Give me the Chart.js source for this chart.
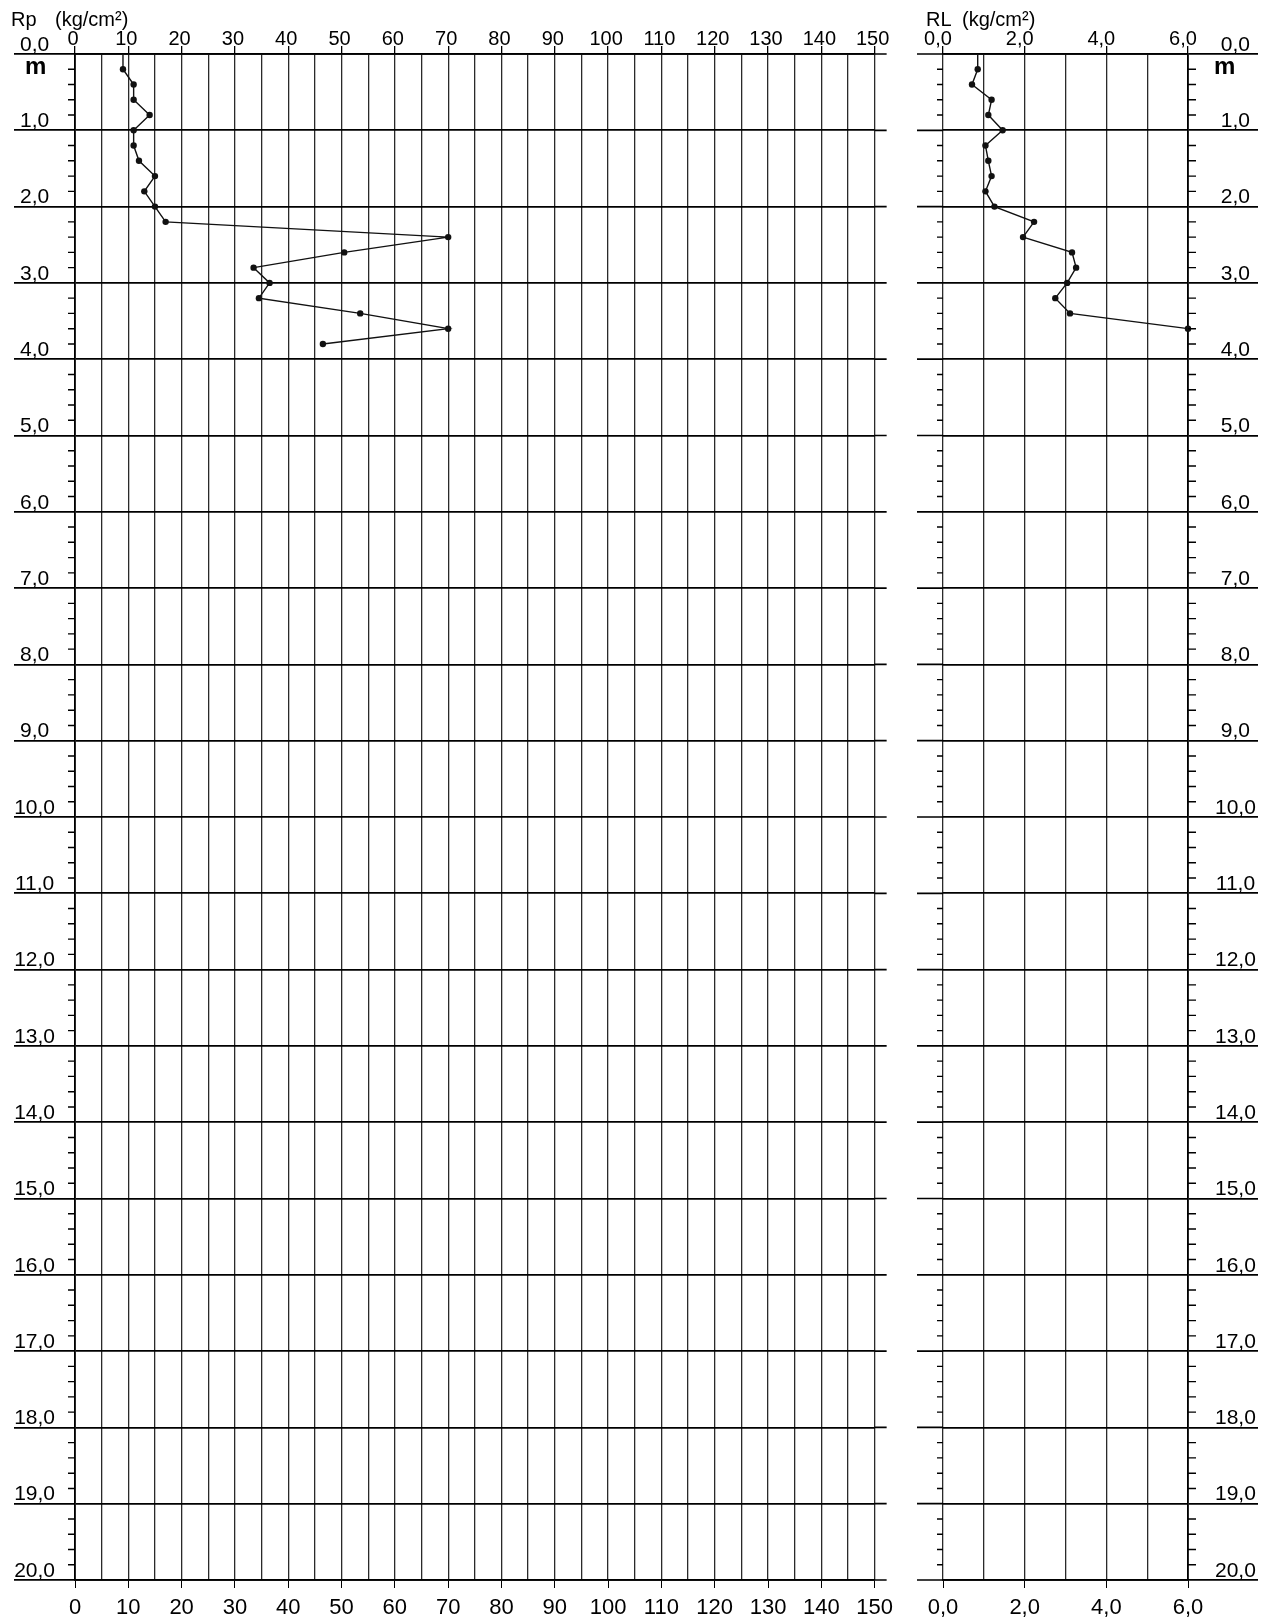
<!DOCTYPE html>
<html>
<head>
<meta charset="utf-8">
<script src="https://cdn.jsdelivr.net/npm/chart.js@4.4.1/dist/chart.umd.min.js"></script>
<style>
  body { margin: 0; background: #fff; width: 1266px; height: 1621px; position: relative; overflow: hidden;
         font-family: "Liberation Sans", Arial, sans-serif; }
  canvas { position: absolute; top: 0; }
  #cRp { left: 0; }
  #cRl { left: 900px; }
  .lbl { position: absolute; z-index: 2; font-size: 20px; line-height: 1; color: #000; white-space: pre; }
  .unit { position: absolute; z-index: 2; font-size: 24px; font-weight: bold; line-height: 1; color: #000; }
</style>
</head>
<body>
<canvas id="cRp" width="900" height="1621"></canvas>
<canvas id="cRl" width="366" height="1621"></canvas>
<div class="lbl" style="left:11px; top:9px;">Rp</div>
<div class="lbl" style="left:55px; top:9px;">(kg/cm²)</div>
<div class="lbl" style="left:926px; top:9px;">RL</div>
<div class="lbl" style="left:962px; top:9px;">(kg/cm²)</div>
<div class="unit" style="left:25px; top:54px;">m</div>
<div class="unit" style="left:1214px; top:54px;">m</div>
<script>
// profondeur (m) et lectures du pénétromètre
const rpDepth = [0.0, 0.2, 0.4, 0.6, 0.8, 1.0, 1.2, 1.4, 1.6, 1.8, 2.0, 2.2, 2.4, 2.6, 2.8, 3.0, 3.2, 3.4, 3.6, 3.8];
const rpValues = [9, 9, 11, 11, 14, 11, 11, 12, 15, 13, 15, 17, 70, 50.5, 33.5, 36.5, 34.5, 53.5, 70, 46.5];

const rlDepth = [0.0, 0.2, 0.4, 0.6, 0.8, 1.0, 1.2, 1.4, 1.6, 1.8, 2.0, 2.2, 2.4, 2.6, 2.8, 3.0, 3.2, 3.4, 3.6];
const rlValues = [0.85, 0.85, 0.71, 1.19, 1.11, 1.46, 1.04, 1.11, 1.19, 1.04, 1.26, 2.23, 1.96, 3.16, 3.26, 3.04, 2.75, 3.11, 6.0];

// libellés des axes
const rpTickLabels = ['0', '10', '20', '30', '40', '50', '60', '70', '80', '90', '100', '110', '120', '130', '140', '150'];
const rlTickLabels = ['0,0', '2,0', '4,0', '6,0'];
const depthLabels = ['0,0', '1,0', '2,0', '3,0', '4,0', '5,0', '6,0', '7,0', '8,0', '9,0', '10,0',
  '11,0', '12,0', '13,0', '14,0', '15,0', '16,0', '17,0', '18,0', '19,0', '20,0'];

Chart.defaults.font.family = '"Liberation Sans", Arial, sans-serif';
Chart.defaults.color = '#000';

// petites graduations tous les 0,2 m + prolongement des lignes des mètres
const depthMarks = {
  id: 'depthMarks',
  afterDraw(chart, args, opts) {
    const y = chart.scales.y;
    const a = chart.chartArea;
    const ctx = chart.ctx;
    ctx.save();
    ctx.strokeStyle = '#000';
    ctx.lineWidth = 1.4;
    ctx.beginPath();
    for (let i = 1; i < 100; i++) {
      if (i % 5 === 0) continue;
      const py = y.getPixelForValue(i / 5);
      if (opts.minorLeft) { ctx.moveTo(a.left - opts.minorLeft, py); ctx.lineTo(a.left, py); }
      if (opts.minorRight) { ctx.moveTo(a.right, py); ctx.lineTo(a.right + opts.minorRight, py); }
    }
    ctx.stroke();
    ctx.lineWidth = 1.7;
    ctx.beginPath();
    y.ticks.forEach(t => {
      const py = y.getPixelForValue(t.value);
      if (opts.extLeft) { ctx.moveTo(a.left - opts.extLeft, py); ctx.lineTo(a.left, py); }
      if (opts.extRight) { ctx.moveTo(a.right, py); ctx.lineTo(a.right + opts.extRight, py); }
    });
    ctx.stroke();
    ctx.restore();
  }
};

function lineDataset(depths, values) {
  return {
    data: depths.map((d, i) => ({ x: values[i], y: d })),
    showLine: true,
    borderColor: '#111',
    borderWidth: 1.4,
    pointRadius: c => c.dataIndex === 0 ? 0 : 3.2,
    pointBackgroundColor: '#111',
    pointBorderWidth: 0,
    clip: false
  };
}

function depthAxis(position, width, tickLength, padding) {
  return {
    type: 'linear', position: position, reverse: true, min: 0, max: 20,
    afterFit: s => { s.width = width; },
    ticks: { stepSize: 1, autoSkip: false, padding: padding, labelOffset: -9, crossAlign: 'center',
             font: { size: 21 }, callback: v => depthLabels[Math.round(v)] },
    grid: { color: '#000', lineWidth: 1.8, tickLength: tickLength, tickColor: '#000' },
    border: { color: '#000', width: 1.8 }
  };
}

// Rp
new Chart(document.getElementById('cRp'), {
  type: 'scatter',
  data: { datasets: [lineDataset(rpDepth, rpValues)] },
  options: {
    responsive: false,
    animation: false,
    layout: { padding: { right: 18 } },
    plugins: { legend: { display: false }, tooltip: { enabled: false },
               depthMarks: { minorLeft: 7, extRight: 12 } },
    scales: {
      x: {
        type: 'linear', position: 'top', min: 0, max: 150,
        afterFit: s => { s.height = 54; },
        ticks: { stepSize: 5, autoSkip: false, maxTicksLimit: 200, maxRotation: 0, padding: -5, labelOffset: -2,
                 font: { size: 20 }, callback: v => v % 10 === 0 ? rpTickLabels[v / 10] : '' },
        grid: { color: '#2a2a2a', lineWidth: 1.3, tickLength: 8,
                tickColor: c => c.tick && c.tick.value % 10 === 0 ? '#000' : 'rgba(0,0,0,0)' },
        border: { color: '#000', width: 1.8 }
      },
      x2: {
        type: 'linear', position: 'bottom', min: 0, max: 150,
        afterFit: s => { s.height = 41; },
        ticks: { stepSize: 5, autoSkip: false, maxTicksLimit: 200, maxRotation: 0, padding: 7,
                 font: { size: 22 }, callback: v => v % 10 === 0 ? rpTickLabels[v / 10] : '' },
        grid: { drawOnChartArea: false, tickLength: 8,
                tickColor: c => c.tick && c.tick.value % 10 === 0 ? '#000' : 'rgba(0,0,0,0)' },
        border: { color: '#000', width: 1.8 }
      },
      y: depthAxis('left', 75, 61, -41)
    }
  },
  plugins: [depthMarks]
});

// RL
new Chart(document.getElementById('cRl'), {
  type: 'scatter',
  data: { datasets: [lineDataset(rlDepth, rlValues)] },
  options: {
    responsive: false,
    animation: false,
    layout: { padding: { left: 43 } },
    plugins: { legend: { display: false }, tooltip: { enabled: false },
               depthMarks: { minorLeft: 6, minorRight: 8, extLeft: 26 } },
    scales: {
      x: {
        type: 'linear', position: 'top', min: 0, max: 6,
        afterFit: s => { s.height = 54; },
        ticks: { stepSize: 1, autoSkip: false, maxRotation: 0, padding: -5, labelOffset: -5,
                 font: { size: 20 }, callback: v => v % 2 === 0 ? rlTickLabels[v / 2] : '' },
        grid: { color: '#2a2a2a', lineWidth: 1.3, tickLength: 8,
                tickColor: c => c.tick && c.tick.value % 2 === 0 ? '#000' : 'rgba(0,0,0,0)' },
        border: { color: '#000', width: 1.8 }
      },
      x2: {
        type: 'linear', position: 'bottom', min: 0, max: 6,
        afterFit: s => { s.height = 41; },
        ticks: { stepSize: 1, autoSkip: false, maxRotation: 0, padding: 7,
                 font: { size: 22 }, callback: v => v % 2 === 0 ? rlTickLabels[v / 2] : '' },
        grid: { drawOnChartArea: false, tickLength: 8,
                tickColor: c => c.tick && c.tick.value % 2 === 0 ? '#000' : 'rgba(0,0,0,0)' },
        border: { color: '#000', width: 1.8 }
      },
      y: depthAxis('right', 78, 70, -43)
    }
  },
  plugins: [depthMarks]
});
</script>
</body>
</html>
